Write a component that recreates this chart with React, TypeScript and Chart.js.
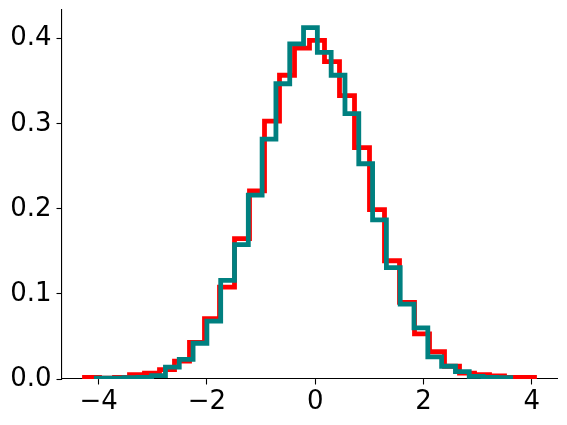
import { useEffect, useRef } from "react";
import { Chart, registerables } from "chart.js";

Chart.register(...registerables);

const redEdges = [
  -4.26, -3.983, -3.706, -3.429, -3.152, -2.875, -2.598, -2.321, -2.044, -1.767,
  -1.49, -1.213, -0.936, -0.659, -0.382, -0.105, 0.172, 0.449, 0.726, 1.003,
  1.28, 1.557, 1.834, 2.111, 2.388, 2.665, 2.942, 3.219, 3.496, 3.773, 4.05,
];
const redDensity = [
  0.002, 0.001, 0.002, 0.005, 0.007, 0.011, 0.021, 0.043, 0.071, 0.108,
  0.165, 0.221, 0.303, 0.357, 0.389, 0.398, 0.373, 0.333, 0.272, 0.199,
  0.139, 0.09, 0.053, 0.032, 0.015, 0.007, 0.005, 0.0035, 0.002, 0.002,
];
const tealEdges = [
  -4.04, -3.785, -3.53, -3.275, -3.02, -2.765, -2.51, -2.255, -2.0, -1.745,
  -1.49, -1.235, -0.98, -0.725, -0.47, -0.215, 0.04, 0.295, 0.55, 0.805,
  1.06, 1.315, 1.57, 1.825, 2.08, 2.335, 2.59, 2.845, 3.1, 3.355, 3.61,
];
const tealDensity = [
  0.001, 0.001, 0.0015, 0.002, 0.004, 0.014, 0.023, 0.042, 0.068, 0.116,
  0.158, 0.216, 0.282, 0.347, 0.394, 0.413, 0.384, 0.357, 0.312, 0.253,
  0.187, 0.131, 0.088, 0.06, 0.026, 0.015, 0.0086, 0.003, 0.002, 0.0015,
];
const xTicks = [-4, -2, 0, 2, 4];
const yTicks = [0, 0.1, 0.2, 0.3, 0.4];
const xRange = [-4.6755, 4.4655];
const yRange = [0, 0.4337];

function stepPoints(edges: number[], vals: number[]) {
  const pts: { x: number; y: number }[] = [{ x: edges[0], y: 0 }];
  vals.forEach((v, i) => pts.push({ x: edges[i], y: v }));
  pts.push({ x: edges[edges.length - 1], y: 0 });
  return pts;
}

export default function App() {
  const ref = useRef<HTMLCanvasElement | null>(null);

  useEffect(() => {
    document.body.style.margin = "0";
    const canvas = ref.current;
    if (!canvas) return;
    const font = { family: "DejaVu Sans", size: 26 };
    const chart = new Chart(canvas, {
      type: "line",
      data: {
        datasets: [
          {
            data: stepPoints(tealEdges, tealDensity),
            borderColor: "#008080",
            borderWidth: 4.8,
            stepped: "before",
            pointRadius: 0,
            fill: false,
            borderJoinStyle: "miter",
            borderCapStyle: "butt",
            clip: 0,
          },
          {
            data: stepPoints(redEdges, redDensity),
            borderColor: "#ff0000",
            borderWidth: 4.8,
            stepped: "before",
            pointRadius: 0,
            fill: false,
            borderJoinStyle: "miter",
            borderCapStyle: "butt",
            clip: 0,
          },
        ],
      },
      options: {
        responsive: false,
        animation: false,
        layout: { padding: { left: 0, top: 10, right: 10, bottom: 0 } },
        plugins: { legend: { display: false }, tooltip: { enabled: false } },
        scales: {
          x: {
            type: "linear",
            min: xRange[0],
            max: xRange[1],
            afterBuildTicks: (s: any) => {
              s.ticks = xTicks.map((v) => ({ value: v }));
            },
            afterFit: (s: any) => {
              s.height = 46;
              s.paddingLeft = 0;
              s.paddingRight = 0;
            },
            ticks: {
              font,
              color: "#000",
              padding: 2,
              maxRotation: 0,
              autoSkip: false,
              callback: (v: any) => (Number(v) < 0 ? "\u2212" + Math.abs(Number(v)) : String(v)),
            },
            grid: {
              drawOnChartArea: false,
              drawTicks: true,
              tickLength: 5.5,
              tickWidth: 1.1,
              tickColor: "#000",
            },
            border: { display: true, color: "#000", width: 1.1 },
          },
          y: {
            type: "linear",
            min: yRange[0],
            max: yRange[1],
            afterBuildTicks: (s: any) => {
              s.ticks = yTicks.map((v) => ({ value: v }));
            },
            afterFit: (s: any) => {
              s.width = 62;
              s.paddingTop = 0;
              s.paddingBottom = 0;
            },
            ticks: {
              font,
              color: "#000",
              padding: 5,
              autoSkip: false,
              callback: (v: any) => Number(v).toFixed(1),
            },
            grid: {
              drawOnChartArea: false,
              drawTicks: true,
              tickLength: 5.5,
              tickWidth: 1.1,
              tickColor: "#000",
            },
            border: { display: true, color: "#000", width: 1.1 },
          },
        },
      },
    } as any);
    return () => chart.destroy();
  }, []);

  return (
    <div style={{ position: "absolute", left: 0, top: 0, width: 567, height: 425 }}>
      <canvas ref={ref} width={567} height={425} />
    </div>
  );
}
